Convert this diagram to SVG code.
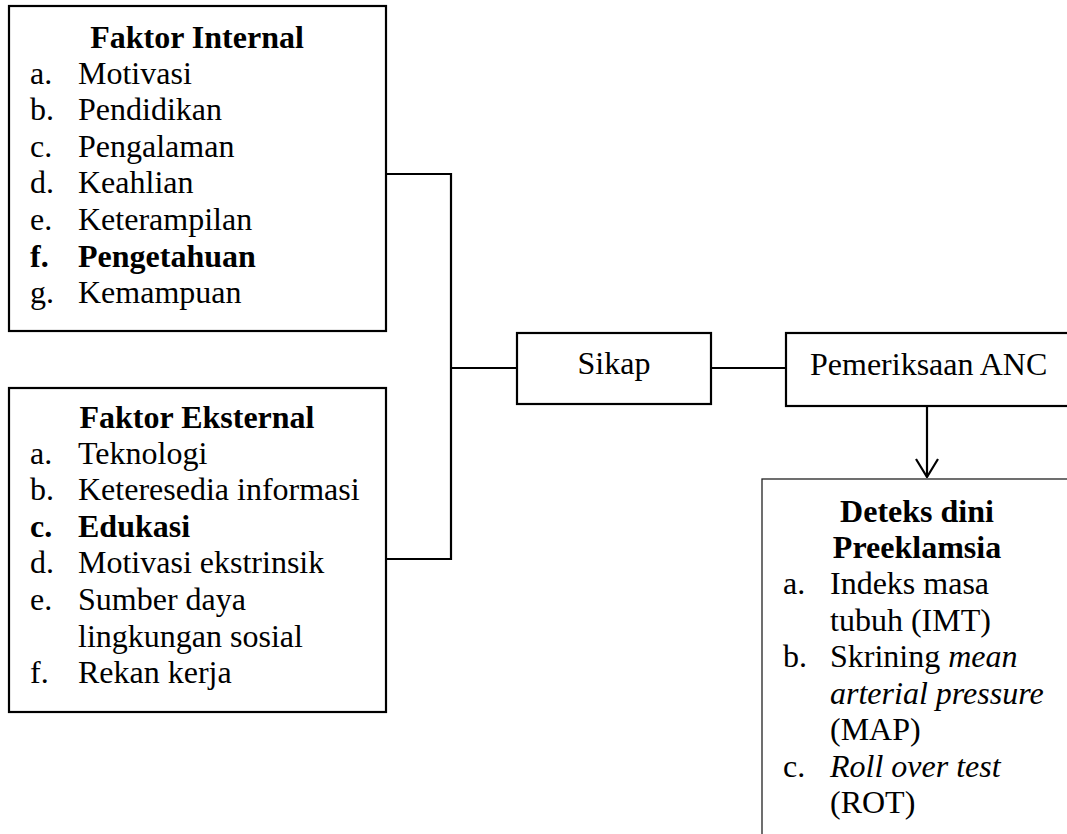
<svg xmlns="http://www.w3.org/2000/svg" width="1067" height="834" viewBox="0 0 1067 834">
<style>
text{font-family:"Liberation Serif","Tinos","Times New Roman","DejaVu Serif",serif;font-size:32px;fill:#000}
.b{font-weight:bold}
.i{font-style:italic}
.c{text-anchor:middle}
.box{fill:#fff;stroke:#000;stroke-width:2.2}
.thin{fill:#fff;stroke:#222;stroke-width:1.3}
.ln{fill:none;stroke:#000;stroke-width:2.2}
</style>
<defs>
<marker id="arr" viewBox="0 0 20 24" refX="19" refY="12" markerWidth="20" markerHeight="24" markerUnits="userSpaceOnUse" orient="auto">
<path d="M1,1 L19,12 L1,23" fill="none" stroke="#000" stroke-width="2.2"/>
</marker>
</defs>
<g id="connectors">
<path class="ln" d="M386,174 H451 V559 H386"/>
<path class="ln" d="M451,368 H517"/>
<path class="ln" d="M711,368 H786"/>
<path class="ln" d="M927,406 V477" marker-end="url(#arr)"/>
</g>
<g id="faktor-internal">
<rect class="box" x="9" y="6" width="377" height="325"/>
<text class="b c" x="197" y="48">Faktor Internal</text>
<text x="30" y="84">a.</text><text x="78" y="84">Motivasi</text>
<text x="30" y="120">b.</text><text x="78" y="120">Pendidikan</text>
<text x="30" y="157">c.</text><text x="78" y="157">Pengalaman</text>
<text x="30" y="193">d.</text><text x="78" y="193">Keahlian</text>
<text x="30" y="230">e.</text><text x="78" y="230">Keterampilan</text>
<text class="b" x="30" y="267">f.</text><text class="b" x="78" y="267">Pengetahuan</text>
<text x="30" y="303">g.</text><text x="78" y="303">Kemampuan</text>
</g>
<g id="faktor-eksternal">
<rect class="box" x="9" y="388" width="377" height="324"/>
<text class="b c" x="197" y="428">Faktor Eksternal</text>
<text x="30" y="464">a.</text><text x="78" y="464">Teknologi</text>
<text x="30" y="500">b.</text><text x="78" y="500">Keteresedia informasi</text>
<text class="b" x="30" y="537">c.</text><text class="b" x="78" y="537">Edukasi</text>
<text x="30" y="573">d.</text><text x="78" y="573">Motivasi ekstrinsik</text>
<text x="30" y="610">e.</text><text x="78" y="610">Sumber daya</text>
<text x="78" y="647">lingkungan sosial</text>
<text x="30" y="683">f.</text><text x="78" y="683">Rekan kerja</text>
</g>
<g id="sikap">
<rect class="box" x="517" y="333" width="194" height="71"/>
<text class="c" x="614" y="374">Sikap</text>
</g>
<g id="pemeriksaan-anc">
<rect class="box" x="786" y="333" width="300" height="73"/>
<text x="810" y="375">Pemeriksaan ANC</text>
</g>
<g id="deteksi-dini">
<rect class="thin" x="762" y="479" width="330" height="380"/>
<text class="b c" x="917" y="522">Deteks dini</text>
<text class="b c" x="917" y="558">Preeklamsia</text>
<text x="783" y="594">a.</text><text x="830" y="594">Indeks masa</text>
<text x="830" y="631">tubuh (IMT)</text>
<text x="783" y="667">b.</text><text x="830" y="667">Skrining <tspan class="i">mean</tspan></text>
<text class="i" x="830" y="704">arterial pressure</text>
<text x="830" y="740">(MAP)</text>
<text x="783" y="777">c.</text><text class="i" x="830" y="777">Roll over test</text>
<text x="830" y="813">(ROT)</text>
</g>
</svg>
